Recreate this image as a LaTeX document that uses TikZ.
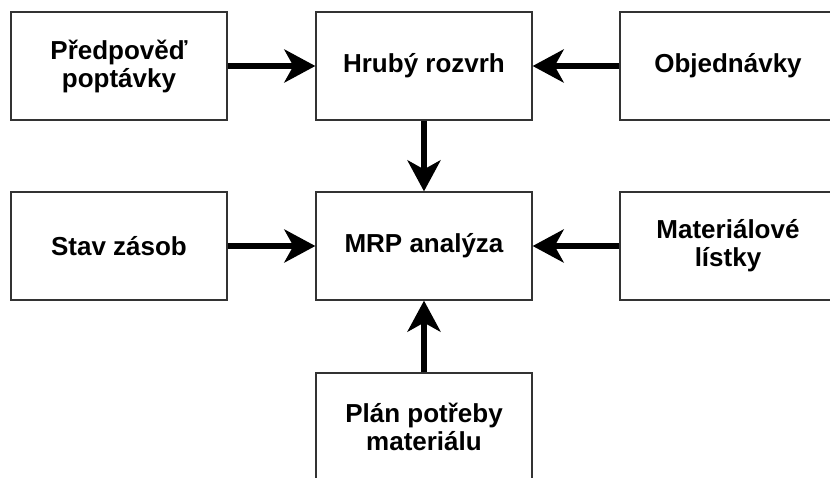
\documentclass[tikz,border=0pt]{standalone}
\usepackage{fontspec}
\setmainfont{Liberation Sans}
\usetikzlibrary{arrows.meta}
\begin{document}
\begin{tikzpicture}[x=1pt,y=-1pt,
  box/.style={draw=black!80, line width=1.3pt, fill=white, minimum width=216pt, minimum height=108pt,
    align=center, inner sep=0pt, font=\fontsize{26}{28}\selectfont\bfseries},
  flow/.style={line width=6pt, -{Stealth[length=31pt,width=33pt,inset=9pt]}}]
\useasboundingbox (0,0) rectangle (830,477);
\clip (0,0) rectangle (830,477);
\node[box] (pred) at (119,66) {Předpověď\\poptávky};
\node[box] (hrub) at (424,66) {Hrubý rozvrh};
\node[box] (obj) at (728,66) {Objednávky};
\node[box] (stav) at (119,246) {Stav zásob};
\node[box] (mrp) at (424,246) {MRP analýza};
\node[box] (mat) at (728,246) {Materiálové\\lístky};
\node[box] (plan) at (424,427) {Plán potřeby\\materiálu};
\draw[flow] (pred) -- (hrub);
\draw[flow] (obj) -- (hrub);
\draw[flow] (hrub) -- (mrp);
\draw[flow] (stav) -- (mrp);
\draw[flow] (mat) -- (mrp);
\draw[flow] (plan) -- (mrp);
\end{tikzpicture}
\end{document}
